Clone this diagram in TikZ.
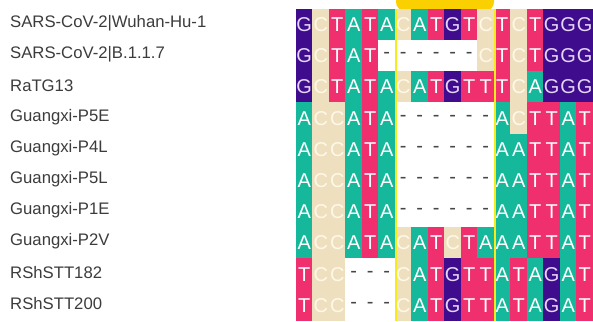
\documentclass[tikz,border=0pt]{standalone}
\usepackage{fontspec}
\setmainfont{Liberation Sans}
\definecolor{nA}{RGB}{22,184,156}
\definecolor{nT}{RGB}{240,48,110}
\definecolor{nG}{RGB}{62,12,140}
\definecolor{nC}{RGB}{238,224,190}
\definecolor{ylw}{RGB}{245,235,30}
\definecolor{gold}{RGB}{250,208,0}
\definecolor{lbl}{RGB}{60,60,60}
\definecolor{gtxt}{RGB}{228,214,245}
\definecolor{ctxt}{RGB}{255,248,232}
\definecolor{dsh}{RGB}{70,70,70}
\begin{document}
\begin{tikzpicture}[x=1pt,y=-1pt,
  cell/.style={minimum width=16.9pt,minimum height=31.6pt,inner sep=0pt,outer sep=0pt,
    font=\fontsize{20}{20}\selectfont,anchor=center},
  nucA/.style={cell,fill=nA,text=white},
  nucT/.style={cell,fill=nT,text=white},
  nucG/.style={cell,fill=nG,text=gtxt},
  nucC/.style={cell,fill=nC,text=ctxt},
  nucN/.style={cell,fill=white,text=dsh},
  lab/.style={anchor=west,inner sep=0pt,font=\fontsize{16.7}{18}\selectfont,text=lbl},
  ybar/.style={draw=ylw,line width=2pt}]
\useasboundingbox (0,0) rectangle (593,321);
\clip (0,0) rectangle (593,321);
\fill[white] (0,0) rectangle (593,321);
% top highlight tab
\fill[gold,rounded corners=9pt] (396,-12) rectangle (494,11);
\def\dashsym{N}
\foreach \seq [count=\row from 0] in {
  {G,C,T,A,T,A,C,A,T,G,T,C,T,C,T,G,G,G},
  {G,C,T,A,T,N,N,N,N,N,N,C,T,C,T,G,G,G},
  {G,C,T,A,T,A,C,A,T,G,T,T,T,C,A,G,G,G},
  {A,C,C,A,T,A,N,N,N,N,N,N,A,C,T,T,A,T},
  {A,C,C,A,T,A,N,N,N,N,N,N,A,A,T,T,A,T},
  {A,C,C,A,T,A,N,N,N,N,N,N,A,A,T,T,A,T},
  {A,C,C,A,T,A,N,N,N,N,N,N,A,A,T,T,A,T},
  {A,C,C,A,T,A,C,A,T,C,T,A,A,A,T,T,A,T},
  {T,C,C,N,N,N,C,A,T,G,T,T,A,T,A,G,A,T},
  {T,C,C,N,N,N,C,A,T,G,T,T,A,T,A,G,A,T}} {
  \foreach \ch [count=\col from 0] in \seq {
    \node[nuc\ch] (c\row-\col) at ({296+16.5*\col+8.25},{9+31.2*\row+15.6})
      {\ifx\ch\dashsym -\else\ch\fi};
  }
}
% labels
\foreach \name [count=\row from 0] in {SARS-CoV-2|Wuhan-Hu-1,SARS-CoV-2|B.1.1.7,RaTG13,
  Guangxi-P5E,Guangxi-P4L,Guangxi-P5L,Guangxi-P1E,Guangxi-P2V,RShSTT182,RShSTT200} {
  \node[lab] (lab\row) at (10,{9+31.2*\row+15.6-1.5}) {\name};
}
% yellow boundary lines
\coordinate (y1t) at (395.5,9);
\coordinate (y1b) at (395.5,321);
\coordinate (y2t) at (494.5,9);
\coordinate (y2b) at (494.5,321);
\draw[ybar] (y1t) -- (y1b);
\draw[ybar] (y2t) -- (y2b);
\end{tikzpicture}
\end{document}
